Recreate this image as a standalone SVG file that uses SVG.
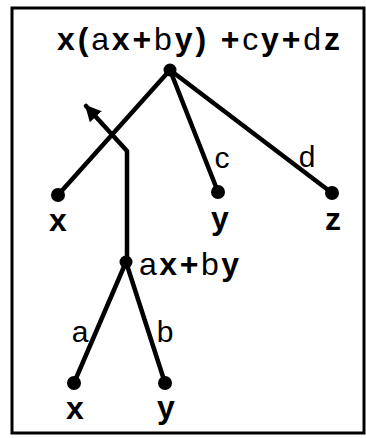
<svg xmlns="http://www.w3.org/2000/svg" width="366" height="438" viewBox="0 0 366 438">
<style>
.edge{stroke:#000;stroke-width:4.5;fill:none;stroke-linecap:round;stroke-linejoin:round}
.dot{fill:#000}
.lbl{font-family:"Liberation Sans",Arial,sans-serif;font-size:32px;font-weight:bold;fill:#000;text-anchor:middle}
.st{text-anchor:start}
.el{font-family:"Liberation Sans",Arial,sans-serif;font-size:30px;font-weight:normal;fill:#000;text-anchor:middle}
.n{font-weight:normal}
</style>
<defs>
<marker id="ah" viewBox="0 0 10 10" refX="9" refY="5" markerWidth="3.6" markerHeight="3.6" orient="auto" markerUnits="strokeWidth">
<path d="M0,0 L10,5 L0,10 z" fill="#000"/>
</marker>
</defs>
<rect x="12" y="8" width="352" height="425" fill="#fff" stroke="#000" stroke-width="3"/>
<g id="connectors">
<line class="edge" x1="170" y1="70" x2="58" y2="195"/>
<line class="edge" x1="170" y1="70" x2="218" y2="192"/>
<line class="edge" x1="170" y1="70" x2="332" y2="193"/>
<path class="edge" d="M127,262 L127,151 L86,106" marker-end="url(#ah)"/>
<line class="edge" x1="126" y1="262" x2="74" y2="383"/>
<line class="edge" x1="126" y1="262" x2="165" y2="383"/>
<text class="el" x="222" y="168">c</text>
<text class="el" x="307" y="167">d</text>
<text class="el" x="80" y="342">a</text>
<text class="el" x="165" y="342">b</text>
</g>
<g id="root">
<circle class="dot" cx="170" cy="70" r="6.5"/>
<text class="lbl st" x="57" y="50" textLength="283" lengthAdjust="spacing">x(<tspan class="n">a</tspan>x+<tspan class="n">b</tspan>y) +<tspan class="n">c</tspan>y+<tspan class="n">d</tspan>z</text>
</g>
<g id="x1">
<circle class="dot" cx="58" cy="195" r="7"/>
<text class="lbl" x="58" y="231">x</text>
</g>
<g id="y1">
<circle class="dot" cx="218" cy="192" r="7"/>
<text class="lbl" x="220" y="229">y</text>
</g>
<g id="z1">
<circle class="dot" cx="332" cy="193" r="7"/>
<text class="lbl" x="333" y="230">z</text>
</g>
<g id="axby">
<circle class="dot" cx="126" cy="262" r="6.5"/>
<text class="lbl st" x="139" y="275" textLength="100" lengthAdjust="spacing"><tspan class="n">a</tspan>x+<tspan class="n">b</tspan>y</text>
</g>
<g id="x2">
<circle class="dot" cx="74" cy="383" r="7"/>
<text class="lbl" x="75" y="419">x</text>
</g>
<g id="y2">
<circle class="dot" cx="165" cy="383" r="7"/>
<text class="lbl" x="166" y="418">y</text>
</g>
</svg>
